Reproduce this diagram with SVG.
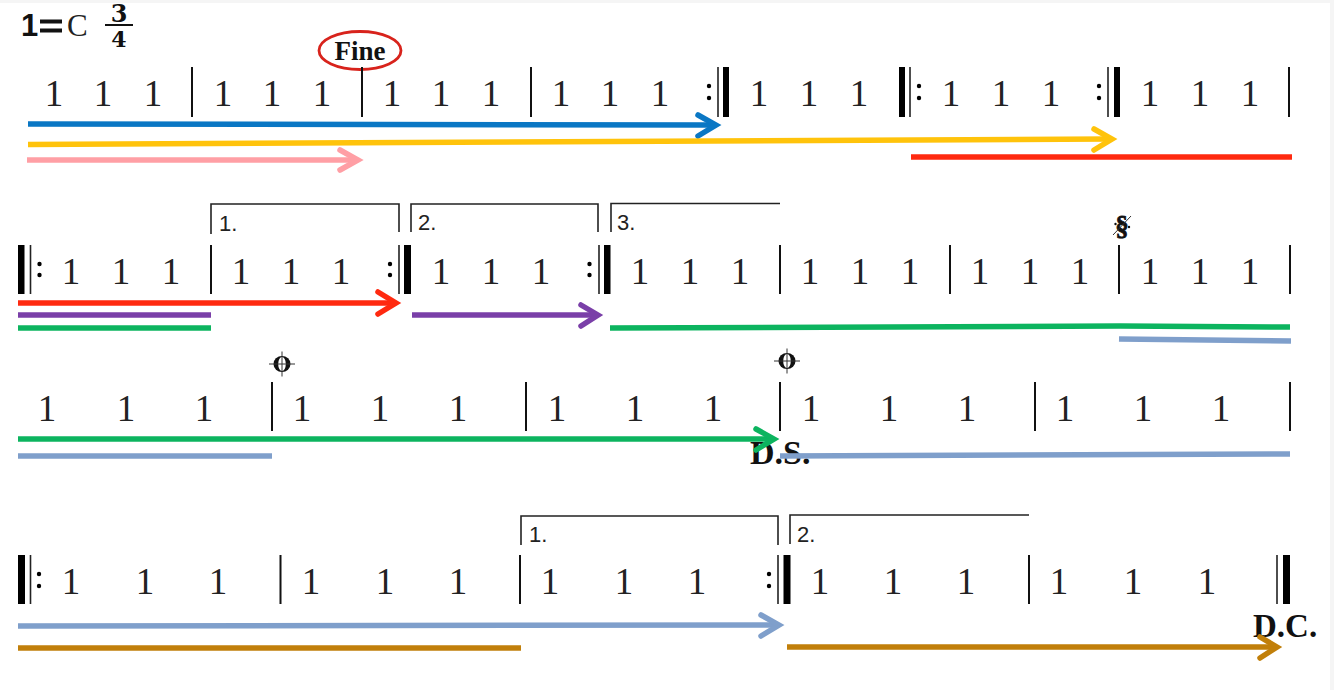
<svg xmlns="http://www.w3.org/2000/svg" width="1334" height="690" viewBox="0 0 1334 690">
<style>
.n{font-family:"Liberation Serif",serif;font-size:37px;fill:#222}
.b{stroke:#111;stroke-width:2;fill:none}
.t{fill:#000}
.k{stroke:#222;stroke-width:1.6;fill:none}
.l{font-family:"Liberation Sans",sans-serif;font-size:22px;fill:#222}
.h{font-family:"Liberation Serif",serif;font-weight:bold;fill:#111}
.c{fill:none;stroke-width:5.5;stroke-linecap:butt}
.a{fill:none;stroke-width:5.5;stroke-linecap:round;stroke-linejoin:miter}
</style>
<defs>
<g id="coda">
<ellipse rx="8.5" ry="8" fill="#111"/><ellipse rx="3.800" ry="7" fill="#fff"/>
<path d="M-13 0H13M0-12.500V12.500" stroke="#333" stroke-width="1" fill="none"/>
</g>
</defs>
<rect width="1334" height="690" fill="#fff"/>
<rect width="1334" height="3" fill="#f5f5f5"/>
<rect x="1330" width="4" height="690" fill="#f5f5f5"/>

<g id="header">
<text class="h" x="21" y="36" font-size="31" style="font-family:'Liberation Sans',sans-serif">1</text>
<path d="M40 21.500H62M40 30.500H62" stroke="#111" stroke-width="4"/>
<text x="67" y="36" font-family="Liberation Serif,serif" font-size="31" fill="#222">C</text>
<text class="h" x="119" y="22" font-size="24" text-anchor="middle" style="font-family:'DejaVu Serif',serif">3</text>
<path d="M105 25H133" stroke="#111" stroke-width="2"/>
<text class="h" x="119" y="47" font-size="22" text-anchor="middle" style="font-family:'DejaVu Serif',serif">4</text>
</g>

<g id="fine">
<ellipse cx="360" cy="50.500" rx="41" ry="19" fill="none" stroke="#d8231c" stroke-width="2.800"/>
<text class="h" x="360" y="60" font-size="27" text-anchor="middle">Fine</text>
</g>

<g id="row1">
<text class="n" y="106" text-anchor="middle" x="54 103 153 223 272 322 392 441 491 561 610 660 759 809 859 951 1001 1051 1150 1200 1250">111111111111111111111</text>
<path class="b" d="M192 67V117M362 67V117M531 67V117M1289 67V117"/>
<path class="k" d="M718 67V117M910 67V117M1108 67V117"/>
<path class="t" d="M723 67h6v50h-6zM899 67h6v50h-6zM1114 67h6v50h-6z"/>
<g class="t"><circle cx="709" cy="86" r="2.200"/><circle cx="709" cy="98" r="2.200"/><circle cx="919" cy="86" r="2.200"/><circle cx="919" cy="98" r="2.200"/><circle cx="1099" cy="86" r="2.200"/><circle cx="1099" cy="98" r="2.200"/></g>
</g>

<g id="row2">
<text class="n" y="284" text-anchor="middle" x="71 121 171 241 291 341 441 491 541 640 690 740 810 860 910 980 1030 1080 1150 1200 1250">111111111111111111111</text>
<path class="b" d="M211 245V294M780 245V294M950 245V294M1119 245V294M1290 245V294"/>
<path class="k" d="M30.500 245V294M399 245V294M599 245V294"/>
<path class="t" d="M18 245h6.500v49h-6.500zM404 245h7v49h-7zM604 245h6.500v49h-6.500z"/>
<g class="t"><circle cx="39.500" cy="264" r="2.200"/><circle cx="39.500" cy="275" r="2.200"/><circle cx="390" cy="264" r="2.200"/><circle cx="390" cy="275" r="2.200"/><circle cx="589.500" cy="264" r="2.200"/><circle cx="589.500" cy="275" r="2.200"/></g>
</g>
<g id="volta-row2">
<path class="k" d="M211 234V204H399V232M411 232V204H598V232M611 232V203.500H780"/>
<text class="l" x="219" y="231">1.</text><text class="l" x="418" y="230">2.</text><text class="l" x="617" y="230">3.</text>
</g>
<g id="segno">
<text class="h" x="1122" y="235" font-size="27" text-anchor="middle" stroke="#111" stroke-width="0.800">§</text>
<path d="M1113 235L1131 216" stroke="#333" stroke-width="1"/>
<circle cx="1115.500" cy="224" r="1.200" fill="#111"/><circle cx="1129" cy="227" r="1.200" fill="#111"/>
</g>

<g id="row3">
<text class="n" y="421" text-anchor="middle" x="47 126 204 302 380 458 557 635 713 811 889 967 1065 1143 1221">111111111111111</text>
<path class="b" d="M272 382V431M526 382V431M780 382V431M1035 382V431M1290 382V431"/>
<use href="#coda" x="282" y="364"/>
<use href="#coda" x="787" y="361"/>
<text class="h" x="750" y="464" font-size="34">D.S.</text>
</g>

<g id="row4">
<text class="n" y="594" text-anchor="middle" x="71 145 218 311 385 458 550 624 697 820 893 966 1059 1133 1207">111111111111111</text>
<path class="b" d="M280.500 555V604M520 555V604M1029 555V604"/>
<path class="k" d="M30.500 555V604M778 555V604M1277 555V604"/>
<path class="t" d="M18 555h7v49h-7zM783.500 555h7v49h-7zM1283 555h7v49h-7z"/>
<g class="t"><circle cx="39" cy="574" r="2.200"/><circle cx="39" cy="586" r="2.200"/><circle cx="769" cy="574" r="2.200"/><circle cx="769" cy="586" r="2.200"/></g>
</g>
<g id="volta-row4">
<path class="k" d="M521 545V516H778V545M790 544V515H1029"/>
<text class="l" x="529" y="542">1.</text><text class="l" x="797" y="542">2.</text>
</g>
<g id="dc"><text class="h" x="1253" y="637" font-size="33">D.C.</text></g>

<g id="connectors">
<path class="c" stroke="#0a77c4" d="M28 124L714 125"/><path class="a" stroke="#0a77c4" d="M698 115L716 125L698 136"/>
<path class="c" stroke="#ffc30b" d="M28 144.500L1110 139"/><path class="a" stroke="#ffc30b" d="M1094 129L1112 139L1094 150"/>
<path class="c" stroke="#ff9fa5" d="M27 160H355"/><path class="a" stroke="#ff9fa5" d="M340 150L358 160L340 170"/>
<path class="c" stroke="#ff2a10" d="M911 157H1292"/>
<path class="c" stroke="#ff2a10" d="M18 303H392"/><path class="a" stroke="#ff2a10" d="M378 292L396 303L378 314"/>
<path class="c" stroke="#7a3fa8" d="M18 315H211"/>
<path class="c" stroke="#0cb45f" d="M18 328H211"/>
<path class="c" stroke="#7a3fa8" d="M412 315H595"/><path class="a" stroke="#7a3fa8" d="M581 305L598 315L581 326"/>
<path class="c" stroke="#0cb45f" d="M610 328L1120 326L1290 327"/>
<path class="c" stroke="#7f9fcb" d="M1119 339L1291 341"/>
<path class="c" stroke="#0cb45f" d="M18 439H771"/><path class="a" stroke="#0cb45f" d="M756 429L774 439L756 450"/>
<path class="c" stroke="#7f9fcb" d="M18 456H272"/>
<path class="c" stroke="#7f9fcb" d="M780 456L1290 454"/>
<path class="c" stroke="#7f9fcb" d="M18 626L776 625"/><path class="a" stroke="#7f9fcb" d="M761 615L779 625L761 636"/>
<path class="c" stroke="#c17f0a" d="M18 648H521"/>
<path class="c" stroke="#c17f0a" d="M787 647H1274"/><path class="a" stroke="#c17f0a" d="M1260 637L1277 647L1260 658"/>
</g>
</svg>
